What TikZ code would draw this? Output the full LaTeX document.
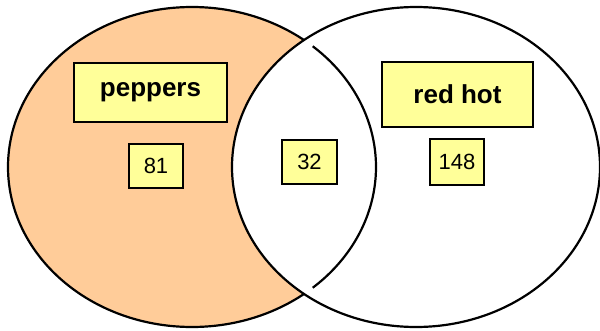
\documentclass[tikz,border=0pt]{standalone}
\usepackage{fontspec}
\setmainfont{Liberation Sans}
\usepackage{tikz}
\usetikzlibrary{positioning}
\definecolor{vnOrange}{RGB}{255,204,153}
\definecolor{vnYellow}{RGB}{255,255,153}
\definecolor{vnLine}{RGB}{0,0,0}

\begin{document}
\begin{tikzpicture}[x=1pt,y=1pt,
  setline/.style={vnLine, line width=2.2pt},
  namebox/.style={draw=vnLine, line width=1.6pt, fill=vnYellow, inner sep=0pt,
    font=\fontsize{26}{30}\selectfont\bfseries},
  countbox/.style={draw=vnLine, line width=1.6pt, fill=vnYellow, inner sep=0pt,
    minimum width=54pt, minimum height=44pt, font=\fontsize{22}{26}\selectfont}]
  \useasboundingbox (0,0) rectangle (600,330);
  \clip (0,0) rectangle (600,330);

  % Set centres
  \coordinate (L) at (192,163);
  \coordinate (R) at (416,163);

  % Peppers set
  \fill[vnOrange] (L) ellipse [x radius=184, y radius=160];
  \draw[setline] (L) ellipse [x radius=184, y radius=160];

  % Red hot set, drawn over it
  \filldraw[setline, fill=white] (R) ellipse [x radius=184, y radius=160];

  % Peppers boundary inside the red hot set
  \draw[setline] ([shift={(49:184 and 160)}]L)
    arc [start angle=49, end angle=-49, x radius=184, y radius=160];

  % Set names
  \node[namebox, minimum width=153pt, minimum height=59pt] (peppers) at (150.5,237.5) {peppers};
  \node[namebox, minimum width=151pt, minimum height=65pt] (redhot) at (457.5,235.5) {red hot};

  % Counts
  \node[countbox] (onlypeppers) at (156,164) {81};
  \node[countbox, minimum width=55pt] (both) at (309.5,168) {32};
  \node[countbox, minimum height=46pt] (onlyredhot) at (457,168) {148};
\end{tikzpicture}
\end{document}
